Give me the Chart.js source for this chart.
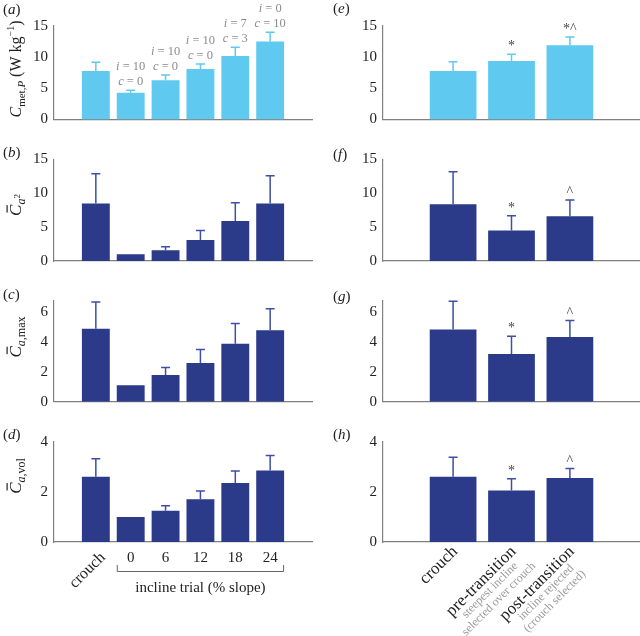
<!DOCTYPE html>
<html>
<head>
<meta charset="utf-8">
<script src="https://cdn.jsdelivr.net/npm/chart.js@4.4.1/dist/chart.umd.min.js"></script>
<style>
  body { margin: 0; background: #fff; width: 640px; height: 636px; position: relative; overflow: hidden; }
  canvas { position: absolute; }
</style>
</head>
<body>
<script>
// categories
const leftCats = ['crouch', '0', '6', '12', '18', '24'];
const rightCats = ['crouch', 'pre-transition', 'post-transition'];
const rightSub = [[], ['steepest incline', 'selected over crouch'], ['incline rejected', '(crouch selected)']];

// metabolic power (a, e)
const metMean = [7.8, 4.3, 6.3, 8.1, 10.2, 12.5];
const metSD = [1.4, 0.4, 0.85, 0.8, 1.4, 1.5];
const metTransMean = [7.8, 9.4, 11.9];
const metTransSD = [1.45, 1.05, 1.35];
// C a^2 (b, f)
const a2Mean = [8.5, 1.0, 1.6, 3.1, 5.9, 8.5];
const a2SD = [4.4, 0, 0.5, 1.4, 2.7, 4.1];
const a2TransMean = [8.4, 4.5, 6.6];
const a2TransSD = [4.8, 2.2, 2.4];
// C a,max (c, g)
const amaxMean = [4.9, 1.1, 1.8, 2.6, 3.9, 4.8];
const amaxSD = [1.8, 0, 0.5, 0.9, 1.35, 1.45];
const amaxTransMean = [4.85, 3.2, 4.35];
const amaxTransSD = [1.9, 1.2, 1.1];
// C a,vol (d, h)
const avolMean = [2.6, 1.0, 1.25, 1.7, 2.35, 2.85];
const avolSD = [0.72, 0, 0.2, 0.33, 0.48, 0.6];
const avolTransMean = [2.6, 2.05, 2.55];
const avolTransSD = [0.78, 0.47, 0.38];

// annotations
const iCount = [null, 10, 10, 10, 7, 0];
const cCount = [null, 0, 0, 0, 3, 10];
const sigMet = ['', '*', '*^'];
const sigOther = ['', '*', '^'];

// tick labels
const ticks15 = [0, 5, 10, 15];
const ticks6 = [0, 2, 4, 6];
const ticks4 = [0, 2, 4];

const SERIF = "'Liberation Serif', 'Times New Roman', serif";
const fnt = (s, it) => (it ? 'italic ' : '') + s + 'px ' + SERIF;
const LIGHT = '#5fc9ef';
const NAVY = '#2b3a89';
const NAVY_ERR = '#3d4fa6';
const AXIS = '#808080';

function richWidth(ctx, parts) {
  let w = 0;
  parts.forEach(q => { ctx.font = q.f; w += ctx.measureText(q.t).width; });
  return w;
}
function drawRich(ctx, parts, x, y) {
  parts.forEach(q => {
    ctx.font = q.f;
    ctx.fillText(q.t, x, y + (q.dy || 0));
    const w = ctx.measureText(q.t).width;
    if (q.bar) ctx.fillRect(x + w * 0.3, y - 14.5, w * 0.65, 1.2);
    x += w;
  });
}

const cTitle = sub => [
  { t: 'C', f: fnt(17, true), bar: true },
  { t: 'a', f: fnt(12, true), dy: 4 },
  ...sub
];

function panel(p) {
  const cv = document.createElement('canvas');
  cv.width = 320; cv.height = p.h;
  cv.style.left = (p.col ? 320 : 0) + 'px';
  cv.style.top = p.top + 'px';
  document.body.appendChild(cv);
  const axisX = p.col ? 63 : 54;

  const deco = {
    id: 'deco',
    afterDatasetsDraw(chart) {
      const ctx = chart.ctx, ys = chart.scales.y;
      const meta = chart.getDatasetMeta(0);
      ctx.save();
      ctx.strokeStyle = p.errColor;
      ctx.lineWidth = 1.5;
      meta.data.forEach((el, i) => {
        if (!p.sd[i]) return;
        const yt = ys.getPixelForValue(p.mean[i] + p.sd[i]);
        ctx.beginPath();
        ctx.moveTo(el.x, el.y); ctx.lineTo(el.x, yt);
        ctx.moveTo(el.x - 4.5, yt); ctx.lineTo(el.x + 4.5, yt);
        ctx.stroke();
      });
      // i / c counts
      if (p.counts) {
        ctx.fillStyle = '#8c8c8c';
        ctx.textBaseline = 'alphabetic';
        meta.data.forEach((el, i) => {
          if (iCount[i] === null) return;
          const yt = ys.getPixelForValue(p.mean[i] + p.sd[i]);
          const l1 = [{ t: 'i', f: fnt(12.5, true) }, { t: ' = ' + iCount[i], f: fnt(12.5) }];
          const l2 = [{ t: 'c', f: fnt(12.5, true) }, { t: ' = ' + cCount[i], f: fnt(12.5) }];
          drawRich(ctx, l1, el.x - richWidth(ctx, l1) / 2, yt - 20);
          drawRich(ctx, l2, el.x - richWidth(ctx, l2) / 2, yt - 5);
        });
      }
      if (p.sig) {
        ctx.fillStyle = '#444';
        ctx.font = fnt(14);
        ctx.textAlign = 'center';
        ctx.textBaseline = 'alphabetic';
        meta.data.forEach((el, i) => {
          if (!p.sig[i]) return;
          const yt = ys.getPixelForValue(p.mean[i] + p.sd[i]);
          ctx.fillText(p.sig[i], el.x, yt - 4);
        });
      }
      ctx.restore();
    },
    afterDraw(chart) {
      const ctx = chart.ctx, xs = chart.scales.x;
      ctx.save();
      ctx.fillStyle = '#222';
      ctx.textBaseline = 'middle';
      // panel letter
      drawRich(ctx, [
        { t: '(', f: fnt(15) }, { t: p.letter, f: fnt(15, true) }, { t: ')', f: fnt(15) }
      ], p.col ? 13 : 3, p.letterY);
      // y title
      if (p.title) {
        ctx.save();
        ctx.translate(21, p.titleY);
        ctx.rotate(-Math.PI / 2);
        ctx.textBaseline = 'alphabetic';
        drawRich(ctx, p.title, -richWidth(ctx, p.title) / 2, 0);
        ctx.restore();
      }
      // bottom category labels
      if (p.bottom === 'left') {
        ctx.font = fnt(15);
        ctx.textAlign = 'center';
        leftCats.slice(1).forEach((c, i) => ctx.fillText(c, xs.getPixelForValue(i + 2), 138));
        ctx.save();
        ctx.translate(xs.getPixelForValue(1) + 7, 135);
        ctx.rotate(-Math.PI / 4);
        ctx.font = fnt(16);
        ctx.textAlign = 'right';
        ctx.fillText(leftCats[0], 0, 0);
        ctx.restore();
        const x0 = xs.getPixelForValue(1.6), x1 = xs.getPixelForValue(6.4);
        ctx.strokeStyle = '#666';
        ctx.lineWidth = 1;
        ctx.beginPath();
        ctx.moveTo(x0 + 0.5, 145); ctx.lineTo(x0 + 0.5, 151.5);
        ctx.lineTo(x1 - 0.5, 151.5); ctx.lineTo(x1 - 0.5, 145);
        ctx.stroke();
        ctx.textAlign = 'center';
        ctx.fillText('incline trial (% slope)', (x0 + x1) / 2, 168);
      }
      if (p.bottom === 'right') {
        rightCats.forEach((c, i) => {
          ctx.save();
          ctx.translate(xs.getPixelForValue(i + 1) + 2, 129);
          ctx.rotate(-Math.PI / 4);
          ctx.font = fnt(17);
          ctx.fillStyle = '#222';
          ctx.textAlign = 'right';
          ctx.fillText(c, 0, 0);
          const w = ctx.measureText(c).width;
          ctx.font = fnt(12);
          ctx.fillStyle = '#9a9a9a';
          ctx.textAlign = 'center';
          rightSub[i].forEach((s, j) => ctx.fillText(s, -w / 2, 12.5 + 12.5 * j));
          ctx.restore();
        });
      }
      ctx.restore();
    }
  };

  new Chart(cv, {
    type: 'bar',
    data: {
      datasets: [{
        data: p.mean.map((v, i) => ({ x: i + 1, y: v })),
        backgroundColor: p.color,
        borderWidth: 0,
        categoryPercentage: 0.8,
        barPercentage: 1
      }]
    },
    options: {
      responsive: false,
      animation: false,
      layout: { padding: { top: p.maxY - p.top, right: p.col ? 0 : 8, left: 0, bottom: 0 } },
      plugins: { legend: { display: false }, tooltip: { enabled: false } },
      scales: {
        x: {
          type: 'linear', offset: false,
          min: -0.2, max: p.col ? 4.2 : 7.2,
          grid: { display: false }, ticks: { display: false },
          border: { color: AXIS, width: 1.2 },
          afterFit: s => { s.height = p.top + p.h - p.zeroY; }
        },
        y: {
          min: 0, max: p.yMax,
          grid: { display: false, drawTicks: false },
          border: { color: AXIS, width: 1.2 },
          ticks: { padding: 6, color: '#222', font: { family: SERIF, size: 15 } },
          afterBuildTicks: s => { s.ticks = p.yTicks.map(v => ({ value: v })); },
          afterFit: s => { s.width = axisX; }
        }
      }
    },
    plugins: [deco]
  });
}

Chart.defaults.font.family = SERIF;

// left column
panel({ col: 0, top: 0, h: 140, mean: metMean, sd: metSD, yMax: 15, yTicks: ticks15, maxY: 26, zeroY: 119.5,
  color: LIGHT, errColor: LIGHT, letter: 'a', letterY: 10, counts: true, titleY: 69,
  title: [{ t: 'C', f: fnt(16, true) }, { t: 'met,', f: fnt(11), dy: 4 }, { t: 'P', f: fnt(11, true), dy: 4 },
          { t: ' (W kg', f: fnt(16) }, { t: '\u22121', f: fnt(10), dy: -7 }, { t: ')', f: fnt(16) }] });
panel({ col: 0, top: 140, h: 140, mean: a2Mean, sd: a2SD, yMax: 15, yTicks: ticks15, maxY: 159.5, zeroY: 261,
  color: NAVY, errColor: NAVY_ERR, letter: 'b', letterY: 13, titleY: 65,
  title: cTitle([{ t: '2', f: fnt(9), dy: -1 }]) });
panel({ col: 0, top: 280, h: 140, mean: amaxMean, sd: amaxSD, yMax: 6.8, yTicks: ticks6, maxY: 300.5, zeroY: 401.7,
  color: NAVY, errColor: NAVY_ERR, letter: 'c', letterY: 15, titleY: 57,
  title: cTitle([{ t: ',max', f: fnt(12), dy: 4 }]) });
panel({ col: 0, top: 420, h: 216, mean: avolMean, sd: avolSD, yMax: 4, yTicks: ticks4, maxY: 441.7, zeroY: 542,
  color: NAVY, errColor: NAVY_ERR, letter: 'd', letterY: 15, titleY: 56, bottom: 'left',
  title: cTitle([{ t: ',vol', f: fnt(12), dy: 4 }]) });

// right column
panel({ col: 1, top: 0, h: 140, mean: metTransMean, sd: metTransSD, yMax: 15, yTicks: ticks15, maxY: 26, zeroY: 119.5,
  color: LIGHT, errColor: LIGHT, letter: 'e', letterY: 9, sig: sigMet });
panel({ col: 1, top: 140, h: 140, mean: a2TransMean, sd: a2TransSD, yMax: 15, yTicks: ticks15, maxY: 159.5, zeroY: 261,
  color: NAVY, errColor: NAVY_ERR, letter: 'f', letterY: 15, sig: sigOther });
panel({ col: 1, top: 280, h: 140, mean: amaxTransMean, sd: amaxTransSD, yMax: 6.8, yTicks: ticks6, maxY: 300.5, zeroY: 401.7,
  color: NAVY, errColor: NAVY_ERR, letter: 'g', letterY: 17, sig: sigOther });
panel({ col: 1, top: 420, h: 216, mean: avolTransMean, sd: avolTransSD, yMax: 4, yTicks: ticks4, maxY: 441.7, zeroY: 542,
  color: NAVY, errColor: NAVY_ERR, letter: 'h', letterY: 15, sig: sigOther, bottom: 'right' });
</script>
</body>
</html>
